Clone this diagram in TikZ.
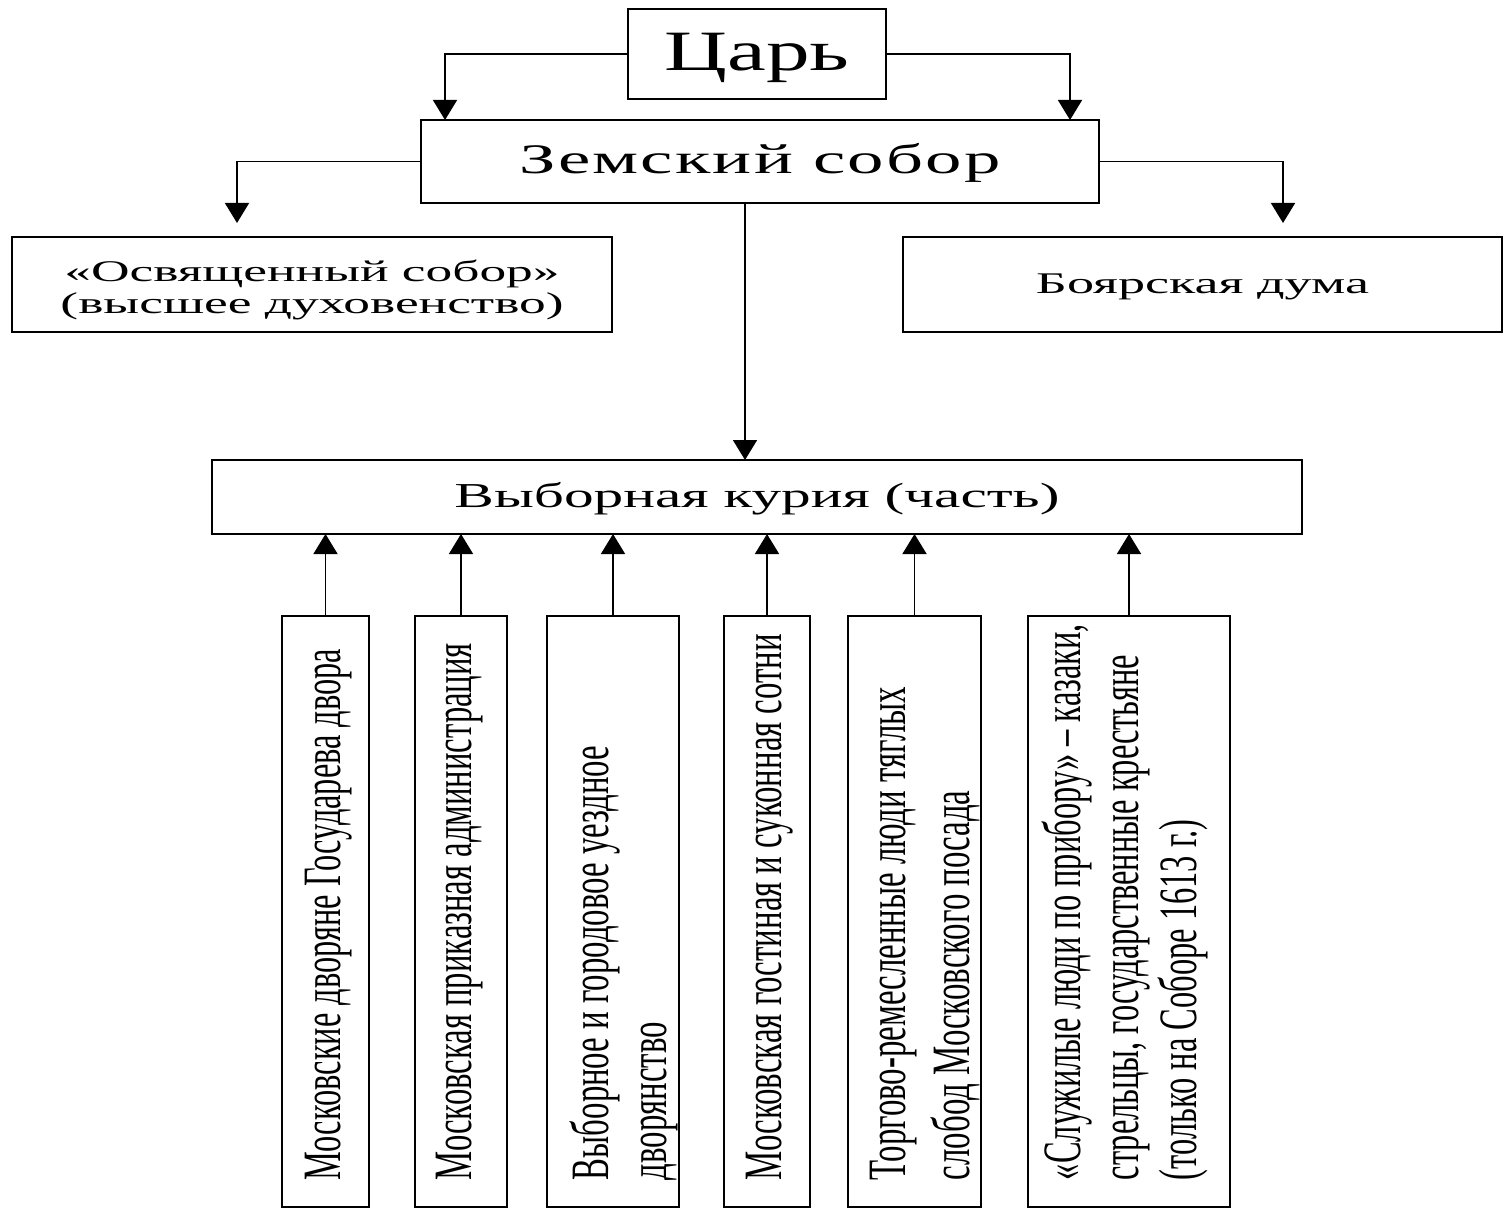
\documentclass[tikz,border=0pt]{standalone}
\usepackage{fontspec}
\setmainfont{Liberation Serif}
\newfontfamily\widefam[LetterSpace=3]{Liberation Serif}
\usetikzlibrary{arrows.meta,calc}
\newcommand{\fitw}[4]{\resizebox{#1pt}{\height}{\fontsize{#2}{#3}\selectfont #4}}
\newcommand{\vlines}[4]{\noindent\spaceskip=0pt\xspaceskip=0pt\resizebox{#1pt}{\height}{\fontsize{#2}{#3}\selectfont\begin{tabular}[t]{@{}l@{}}#4\end{tabular}}}
\begin{document}
\begin{tikzpicture}[x=1pt,y=-1pt,
  box/.style={draw, line width=1.8pt, rectangle, inner sep=0pt, outer sep=0pt},
  arr/.style={line width=1.6pt, -{Triangle[width=24pt,length=20pt]}},
  vbox/.style={box, rotate=90, minimum width=591pt, text width=537pt, align=left},
]
\fill[white] (0,0) rectangle (1511,1214);
\useasboundingbox (0,0) rectangle (1511,1214);

% top boxes
\node[box, minimum width=258pt, minimum height=90pt, text height=34pt, text depth=0pt] (tsar) at (757,54)
  {\fitw{185}{57}{60}{Царь}};
\node[box, minimum width=678pt, minimum height=83pt, text height=25pt, text depth=0pt] (zs) at (760,161.5)
  {\resizebox{481pt}{\height}{\widefam\fontsize{42}{42}\selectfont Земский собор}};
\node[box, minimum width=600pt, minimum height=95pt, text height=0pt, text depth=6pt] (osv) at (312,284.5)
  {\resizebox{503pt}{\height}{\fontsize{30}{32}\selectfont\begin{tabular}[t]{@{}c@{}}«Освященный собор»\\(высшее духовенство)\end{tabular}}};
\node[box, minimum width=599pt, minimum height=95pt, text height=18pt, text depth=0pt] (boy) at (1202.5,284.5)
  {\fitw{333}{30}{30}{Боярская дума}};
\node[box, minimum width=1090pt, minimum height=74pt, text height=20pt, text depth=0pt] (kur) at (757,497)
  {\fitw{605}{35}{35}{Выборная курия (часть)}};

% vertical boxes
\node[vbox, minimum height=87pt, text height=29pt, text depth=0pt] (b1) at (325.5,911.5)
  {\vlines{531}{54}{60}{Московские дворяне Государева двора}};
\node[vbox, minimum height=92pt, text height=20pt, text depth=0pt] (b2) at (461,911.5)
  {\vlines{537}{54}{60}{Московская приказная администрация}};
\node[vbox, minimum height=132pt, text height=0pt, text depth=10pt] (b3) at (613,911.5)
  {\vlines{434}{54}{58}{Выборное и городовое уездное\\дворянство}};
\node[vbox, minimum height=86pt, text height=28pt, text depth=0pt] (b4) at (767,911.5)
  {\vlines{546}{54}{60}{Московская гостиная и суконная сотни}};
\node[vbox, minimum height=133pt, text height=0pt, text depth=19pt] (b5) at (914.5,911.5)
  {\vlines{493}{54}{64}{Торгово-ремесленные люди тяглых\\слобод Московского посада}};
\node[vbox, minimum height=202pt, text height=0pt, text depth=98pt] (b6) at (1129,911.5)
  {\vlines{556}{54}{58}{«Служилые люди по прибору» – казаки,\\стрельцы, государственные крестьяне\\(только на Соборе 1613 г.)}};

% connectors
\draw[arr] (tsar.west) -| ([xshift=24pt]zs.north west);
\draw[arr] (tsar.east) -| ([xshift=-29pt]zs.north east);
\draw[arr] (zs.west) -| ($(osv.north west)+(225,-14)$);
\draw[arr] (zs.east) -| ($(boy.north west)+(380,-14)$);
\draw[arr] ([xshift=-15pt]zs.south) -- ([xshift=-15pt]zs.south |- kur.north);
\foreach \b in {b1,b2,b3,b4,b5,b6}
  \draw[arr] (\b.east) -- (\b.east |- kur.south);
\end{tikzpicture}
\end{document}
